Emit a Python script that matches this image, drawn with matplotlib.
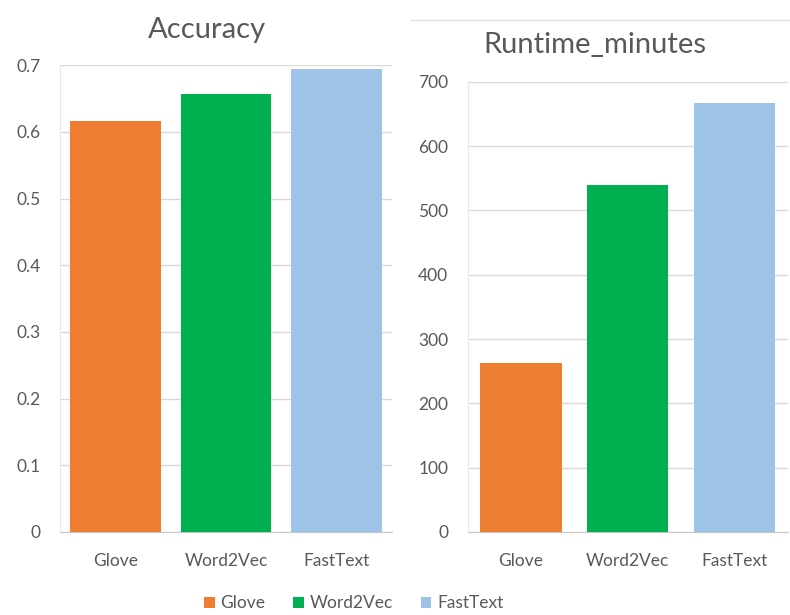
import matplotlib.pyplot as plt
from matplotlib.patches import Patch
from matplotlib.lines import Line2D

models = ["Glove", "Word2Vec", "FastText"]
accuracy = [0.616, 0.657, 0.694]
runtime_minutes = [263, 540, 667]
colors = ["#ED7D31", "#00B050", "#9DC3E6"]

plt.rcParams['font.family'] = ['Lato', 'DejaVu Sans']
text_gray = "#595959"
grid_gray = "#d9d9d9"

fig = plt.figure(figsize=(7.9, 6.15), dpi=100)

ax1 = fig.add_axes([0.076, 0.135, 0.420, 0.759])
ax2 = fig.add_axes([0.592, 0.135, 0.405, 0.732])


def draw_bars(ax, values, yticks, ylabels, bar_width):
    x = range(len(models))
    ax.bar(x, values, width=bar_width, color=colors, zorder=3)
    ax.set_xlim(-0.5, len(models) - 0.5)
    ax.set_ylim(yticks[0], yticks[-1])
    ax.set_yticks(yticks)
    ax.set_yticklabels(ylabels)
    ax.set_xticks(list(x))
    ax.set_xticklabels(models)
    ax.grid(axis='y', color=grid_gray, lw=1, zorder=0)
    for side in ['top', 'right']:
        ax.spines[side].set_visible(False)
    ax.spines['left'].set_color("#e8e8e8")
    ax.spines['bottom'].set_color("#c8c8c8")
    ax.tick_params(axis='both', length=0, colors=text_gray, labelsize=12.5)
    ax.tick_params(axis='y', pad=14)
    ax.tick_params(axis='x', pad=15)


draw_bars(ax1, accuracy, [i / 10 for i in range(8)],
          ["0"] + [f"{i / 10:.1f}" for i in range(1, 8)], 0.82)
draw_bars(ax2, runtime_minutes, list(range(0, 701, 100)),
          [str(v) for v in range(0, 701, 100)], 0.76)

fig.text(0.262, 0.951, "Accuracy", ha='center', va='center',
         fontsize=21, color=text_gray)
fig.text(0.753, 0.927, "Runtime_minutes", ha='center', va='center',
         fontsize=21, color=text_gray)

# thin frame line above the second chart
fig.add_artist(Line2D([0.52, 1.0], [0.967, 0.967], transform=fig.transFigure,
                      color="#e0e0e0", lw=1))

handles = [Patch(facecolor=c, label=m) for c, m in zip(colors, models)]
fig.legend(handles=handles, loc='center', bbox_to_anchor=(0.448, 0.019),
           ncol=3, frameon=False, fontsize=12.5, labelcolor=text_gray,
           handlelength=0.6, handleheight=0.6, handletextpad=0.35,
           columnspacing=1.6)

fig.savefig("out.png", dpi=100)
